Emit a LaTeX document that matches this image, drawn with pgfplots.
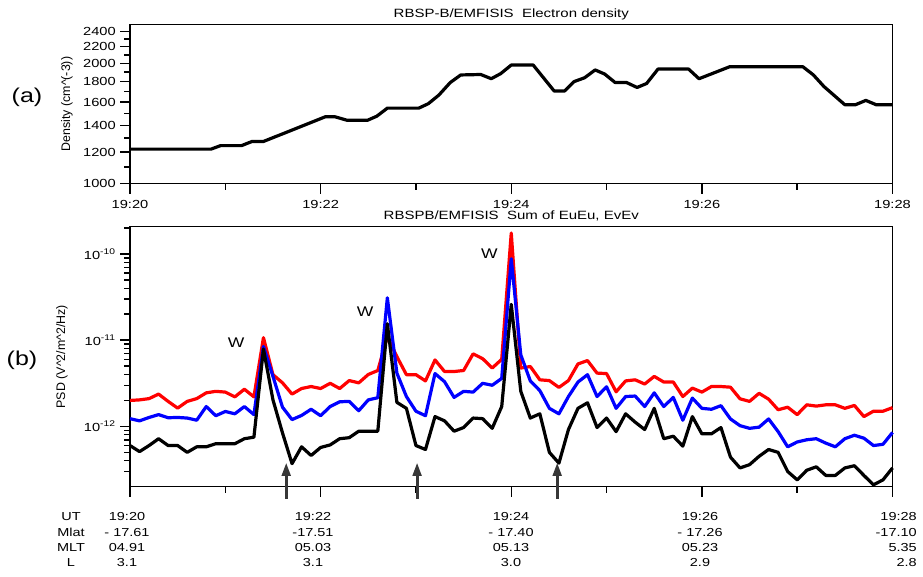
\documentclass[border=0pt]{standalone}
\usepackage{fontspec}
\setmainfont{Liberation Sans}[FakeStretch=1.25]
\newfontfamily\plainsans{Liberation Sans}
\usepackage{pgfplots}
\pgfplotsset{compat=1.18}
\usetikzlibrary{arrows.meta}
\definecolor{arrowgray}{RGB}{55,55,55}
\begin{document}
\fontsize{9}{11}\selectfont
\begin{tikzpicture}
\useasboundingbox (0,0) rectangle (692.25pt,-432.75pt);
\pgfplotsset{
 every axis title/.style={at={(0.5,1)}, anchor=base, yshift=5.5pt, font=\fontsize{9}{11}\selectfont},
 every axis/.append style={
  scale only axis, width=571.875pt, xmin=0, xmax=8,
  axis line style={line width=1.1pt},
  every tick/.style={line width=1.1pt, black},
  major tick length=7.5pt, minor tick length=4.5pt,
  tick align=outside, xtick pos=bottom, ytick pos=left,
  xtick={0,2,4,6,8}, minor xtick={1,3,5,7},
  tick label style={font=\fontsize{8.8}{10}\selectfont},
  label style={font=\plainsans\fontsize{9.3}{11}\selectfont},
  clip=false,
  /pgf/number format/assume math mode=true,
 }
}
% ---------------- top panel ----------------
\begin{axis}[at={(97.5pt,-137.78pt)}, anchor=south west, height=119.4pt,
  ymode=log, ymin=1000, ymax=2500,
  ytick={1000,1200,1400,1600,1800,2000,2200,2400},
  yticklabels={1000,1200,1400,1600,1800,2000,2200,2400},
  minor ytick={1100,1300,1500,1700,1900,2100,2300},
  xticklabels={19:20,19:22,19:24,19:26,19:28},
  xticklabel style={yshift=-1.5pt},
  title={RBSP-B/EMFISIS\ \ Electron density},
  ylabel={Density (cm\textasciicircum(-3))},
  ylabel style={at={(axis description cs:-0.0826,0.5)}, anchor=center},
]
\addplot[black, line width=2.4pt, line join=round] table {
x y
0 1220
0.85 1220
0.95 1245
1.17 1245
1.28 1275
1.40 1275
2.05 1470
2.15 1470
2.28 1440
2.49 1440
2.59 1475
2.70 1545
3.03 1545
3.13 1585
3.24 1665
3.36 1790
3.47 1870
3.68 1875
3.79 1830
3.89 1885
4.00 1980
4.23 1980
4.45 1705
4.56 1705
4.66 1800
4.77 1840
4.88 1925
4.98 1880
5.09 1790
5.21 1790
5.32 1740
5.42 1780
5.54 1935
5.86 1935
5.97 1830
6.29 1960
7.06 1960
7.17 1870
7.28 1750
7.50 1575
7.61 1575
7.72 1615
7.83 1575
8.00 1575
};
\end{axis}
% ---------------- bottom panel ----------------
\begin{axis}[at={(97.5pt,-365pt)}, anchor=south west, height=195pt,
  ymode=log, ymin=2e-13, ymax=2.07e-10,
  ytick={1e-12,1e-11,1e-10},
  yticklabels={10\textsuperscript{-12},10\textsuperscript{-11},10\textsuperscript{-10}},
  minor ytick={3e-13,4e-13,5e-13,6e-13,7e-13,8e-13,9e-13,2e-12,3e-12,4e-12,5e-12,6e-12,7e-12,8e-12,9e-12,2e-11,3e-11,4e-11,5e-11,6e-11,7e-11,8e-11,9e-11,2e-10},
  xticklabels={},
  title={RBSPB/EMFISIS\ \ Sum of EuEu, EvEv},
  ylabel={PSD (V\textasciicircum2/m\textasciicircum2/Hz)},
  ylabel style={at={(axis description cs:-0.0892,0.5)}, anchor=center},
]
\addplot[red, line width=2.4pt, line join=round] table {
x y
0 2.0e-12
0.1 2.03e-12
0.2 2.1e-12
0.3 2.37e-12
0.4 1.95e-12
0.5 1.63e-12
0.6 1.95e-12
0.7 2.1e-12
0.8 2.45e-12
0.9 2.55e-12
1.0 2.5e-12
1.1 2.2e-12
1.2 2.7e-12
1.3 2.2e-12
1.4 1.07e-11
1.5 3.98e-12
1.6 3.2e-12
1.7 2.37e-12
1.8 2.75e-12
1.9 2.9e-12
2.0 2.75e-12
2.1 3.16e-12
2.2 2.75e-12
2.3 3.4e-12
2.4 3.2e-12
2.5 4.0e-12
2.6 4.45e-12
2.7 1.1e-11
2.8 6.45e-12
2.9 3.98e-12
3.0 3.98e-12
3.1 3.37e-12
3.2 5.9e-12
3.3 4.33e-12
3.4 4.33e-12
3.5 4.45e-12
3.6 6.94e-12
3.7 6.1e-12
3.8 4.75e-12
3.9 6.0e-12
4.0 1.75e-10
4.1 4.75e-12
4.2 4.95e-12
4.3 3.47e-12
4.4 3.4e-12
4.5 2.83e-12
4.6 3.4e-12
4.7 5.3e-12
4.8 5.8e-12
4.9 4.15e-12
5.0 4.1e-12
5.1 2.52e-12
5.2 3.37e-12
5.3 3.47e-12
5.4 3.1e-12
5.5 3.8e-12
5.6 3.27e-12
5.7 3.27e-12
5.8 2.22e-12
5.9 2.78e-12
6.0 2.5e-12
6.1 2.9e-12
6.2 2.9e-12
6.3 2.85e-12
6.4 2.09e-12
6.5 1.95e-12
6.6 2.42e-12
6.7 2.07e-12
6.8 1.56e-12
6.9 1.67e-12
7.0 1.37e-12
7.1 1.78e-12
7.2 1.72e-12
7.3 1.78e-12
7.4 1.78e-12
7.5 1.62e-12
7.6 1.75e-12
7.7 1.3e-12
7.8 1.5e-12
7.9 1.5e-12
8.0 1.65e-12
};
\addplot[blue, line width=2.4pt, line join=round] table {
x y
0 1.23e-12
0.1 1.16e-12
0.2 1.27e-12
0.3 1.37e-12
0.4 1.26e-12
0.5 1.27e-12
0.6 1.25e-12
0.7 1.18e-12
0.8 1.7e-12
0.9 1.33e-12
1.0 1.49e-12
1.1 1.4e-12
1.2 1.7e-12
1.3 1.37e-12
1.4 8.45e-12
1.5 3.8e-12
1.6 1.67e-12
1.7 1.2e-12
1.8 1.34e-12
1.9 1.58e-12
2.0 1.33e-12
2.1 1.7e-12
2.2 1.93e-12
2.3 1.95e-12
2.4 1.52e-12
2.5 2.03e-12
2.6 2.15e-12
2.7 3.1e-11
2.8 4.15e-12
2.9 2.22e-12
3.0 1.5e-12
3.1 1.33e-12
3.2 4.1e-12
3.3 3.3e-12
3.4 2.17e-12
3.5 2.55e-12
3.6 2.5e-12
3.7 3.16e-12
3.8 3.0e-12
3.9 3.6e-12
4.0 8.8e-11
4.1 6.76e-12
4.2 3.37e-12
4.3 2.6e-12
4.4 1.62e-12
4.5 1.4e-12
4.6 2.22e-12
4.7 3.27e-12
4.8 3.98e-12
4.9 2.22e-12
5.0 2.88e-12
5.1 1.62e-12
5.2 2.22e-12
5.3 2.25e-12
5.4 1.7e-12
5.5 2.45e-12
5.6 1.7e-12
5.7 2.17e-12
5.8 1.18e-12
5.9 2.13e-12
6.0 1.62e-12
6.1 1.58e-12
6.2 1.74e-12
6.3 1.22e-12
6.4 1.02e-12
6.5 0.95e-12
6.6 0.98e-12
6.7 1.22e-12
6.8 0.87e-12
6.9 0.58e-12
7.0 0.66e-12
7.1 0.7e-12
7.2 0.72e-12
7.3 0.64e-12
7.4 0.58e-12
7.5 0.72e-12
7.6 0.79e-12
7.7 0.73e-12
7.8 0.6e-12
7.9 0.62e-12
8.0 0.85e-12
};
\addplot[black, line width=2.4pt, line join=round] table {
x y
0 0.6e-12
0.1 0.51e-12
0.2 0.6e-12
0.3 0.72e-12
0.4 0.6e-12
0.5 0.6e-12
0.6 0.5e-12
0.7 0.58e-12
0.8 0.58e-12
0.9 0.63e-12
1.0 0.63e-12
1.1 0.63e-12
1.2 0.72e-12
1.3 0.75e-12
1.4 7.9e-12
1.5 2.03e-12
1.6 0.84e-12
1.7 0.37e-12
1.8 0.58e-12
1.9 0.46e-12
2.0 0.57e-12
2.1 0.61e-12
2.2 0.72e-12
2.3 0.74e-12
2.4 0.88e-12
2.5 0.88e-12
2.6 0.88e-12
2.7 1.55e-11
2.8 1.9e-12
2.9 1.62e-12
3.0 0.6e-12
3.1 0.54e-12
3.2 1.3e-12
3.3 1.16e-12
3.4 0.88e-12
3.5 0.97e-12
3.6 1.25e-12
3.7 1.23e-12
3.8 0.95e-12
3.9 1.7e-12
4.0 2.6e-11
4.1 2.55e-12
4.2 1.25e-12
4.3 1.4e-12
4.4 0.5e-12
4.5 0.375e-12
4.6 0.92e-12
4.7 1.62e-12
4.8 1.88e-12
4.9 0.97e-12
5.0 1.25e-12
5.1 0.87e-12
5.2 1.4e-12
5.3 1.12e-12
5.4 0.92e-12
5.5 1.62e-12
5.6 0.72e-12
5.7 0.77e-12
5.8 0.59e-12
5.9 1.3e-12
6.0 0.82e-12
6.1 0.82e-12
6.2 0.97e-12
6.3 0.44e-12
6.4 0.33e-12
6.5 0.36e-12
6.6 0.45e-12
6.7 0.54e-12
6.8 0.5e-12
6.9 0.3e-12
7.0 0.24e-12
7.1 0.31e-12
7.2 0.34e-12
7.3 0.27e-12
7.4 0.27e-12
7.5 0.33e-12
7.6 0.35e-12
7.7 0.27e-12
7.8 0.21e-12
7.9 0.24e-12
8.0 0.33e-12
};
% annotations
\node[font=\fontsize{10.5}{12}\selectfont] at (axis cs:1.113,9.3e-12) {W};
\node[font=\fontsize{10.5}{12}\selectfont] at (axis cs:2.468,2.14e-11) {W};
\node[font=\fontsize{10.5}{12}\selectfont] at (axis cs:3.771,1.02e-10) {W};
\draw[arrowgray, line width=2.2pt, -{Triangle[length=10pt,width=6.5pt]}] (axis cs:1.639,1.45e-13) -- (axis cs:1.639,3.8e-13);
\draw[arrowgray, line width=2.2pt, -{Triangle[length=10pt,width=6.5pt]}] (axis cs:3.012,1.45e-13) -- (axis cs:3.012,3.8e-13);
\draw[arrowgray, line width=2.2pt, -{Triangle[length=10pt,width=6.5pt]}] (axis cs:4.482,1.45e-13) -- (axis cs:4.482,3.8e-13);
\end{axis}
% panel letters
\node[font=\fontsize{15}{17}\selectfont] at (20.25pt,-72.75pt) {(a)};
\node[font=\fontsize{15}{17}\selectfont] at (16.5pt,-270pt) {(b)};
% orbit table
\begin{scope}[every node/.style={font=\fontsize{8.7}{10}\selectfont, inner sep=0pt, anchor=base}]
\node at (53.25pt,-390pt) {UT};
\node at (53.25pt,-402pt) {Mlat};
\node at (53.25pt,-413.8pt) {MLT};
\node at (53.25pt,-425pt) {L};
\node at (95.25pt,-390pt) {19:20};
\node at (95.25pt,-402pt) {- 17.61};
\node at (95.25pt,-413.8pt) {04.91};
\node at (95.25pt,-425pt) {3.1};
\node at (234.75pt,-390pt) {19:22};
\node at (234.75pt,-402pt) {-17.51};
\node at (234.75pt,-413.8pt) {05.03};
\node at (234.75pt,-425pt) {3.1};
\node at (383.25pt,-390pt) {19:24};
\node at (383.25pt,-402pt) {- 17.40};
\node at (383.25pt,-413.8pt) {05.13};
\node at (383.25pt,-425pt) {3.0};
\node at (525pt,-390pt) {19:26};
\node at (525pt,-402pt) {- 17.26};
\node at (525pt,-413.8pt) {05.23};
\node at (525pt,-425pt) {2.9};
\node[anchor=base east] at (687.75pt,-390pt) {19:28};
\node[anchor=base east] at (687.75pt,-402pt) {-17.10};
\node[anchor=base east] at (687.75pt,-413.8pt) {5.35};
\node[anchor=base east] at (687.75pt,-425pt) {2.8};
\end{scope}
\end{tikzpicture}
\end{document}
